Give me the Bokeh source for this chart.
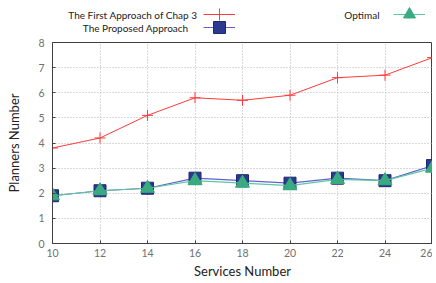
from bokeh.plotting import figure
from bokeh.models import Legend, LegendItem, Label, Range1d, FixedTicker
from bokeh.layouts import column
from bokeh.embed import file_html
from bokeh.resources import INLINE

services = [10, 12, 14, 16, 18, 20, 22, 24, 26]
first_approach = [3.8, 4.2, 5.1, 5.8, 5.7, 5.9, 6.6, 6.7, 7.4]
proposed = [1.9, 2.1, 2.2, 2.6, 2.5, 2.4, 2.6, 2.5, 3.1]
optimal = [1.9, 2.1, 2.2, 2.5, 2.4, 2.3, 2.55, 2.5, 3.0]
series_names = ["The First Approach of Chap 3", "The Proposed Approach", "Optimal"]
x_ticks = [10, 12, 14, 16, 18, 20, 22, 24, 26]
y_ticks = [0, 1, 2, 3, 4, 5, 6, 7, 8]

FONT = "Lato"
RED = "#ff3b3b"
BLUE_LINE = "#6262d0"
BLUE_FILL = "#2b3a8e"
BLUE_EDGE = "#1c2870"
GREEN_LINE = "#5cc8a0"
GREEN_FILL = "#3aaa80"
W = 432


def add_series(fig):
    a = fig.line(services, first_approach, line_color=RED, line_width=1)
    b = fig.scatter(services, first_approach, marker="cross", size=11,
                    line_color=RED, line_width=1)
    c = fig.line(services, proposed, line_color=BLUE_LINE, line_width=1.2)
    d = fig.scatter(services, proposed, marker="square", size=12,
                    fill_color=BLUE_FILL, line_color=BLUE_EDGE, line_width=1)
    e = fig.line(services, optimal, line_color=GREEN_LINE, line_width=1.2)
    f = fig.scatter(services, optimal, marker="triangle", size=14,
                    fill_color=GREEN_FILL, line_color=GREEN_FILL, line_width=1)
    return [[a, b], [c, d], [e, f]]


# ---- legend strip (top) ----
lf = figure(width=W, height=34, output_backend="svg", toolbar_location=None,
            x_range=Range1d(0, 1), y_range=Range1d(0, 1),
            x_axis_location=None, y_axis_location=None,
            min_border=0, min_border_left=0, min_border_right=0,
            min_border_top=0, min_border_bottom=0)
lf.outline_line_color = None
lf.grid.visible = False
lf.background_fill_color = "white"
lf.border_fill_color = "white"
leg_renderers = add_series(lf)

leg_style = dict(orientation="vertical", glyph_width=32, glyph_height=30, spacing=0,
                 padding=0, margin=0, label_width=0, label_height=0, label_standoff=0,
                 label_text_font_size="1px", background_fill_alpha=0,
                 border_line_alpha=0, inactive_fill_alpha=0)
# strip frame is aligned with the main frame (starts 52px from the left)
leg_pos = [(151, 5), (151, -8), (341, 5)]
for rends, pos in zip(leg_renderers, leg_pos):
    lf.add_layout(Legend(items=[LegendItem(label=" ", renderers=rends)],
                         location=pos, **leg_style), "center")

txt_pos = [(145, 20), (136, 7), (327, 20)]
for name, (xx, yy) in zip(series_names, txt_pos):
    lf.add_layout(Label(x=xx, y=yy, x_units="screen", y_units="screen", text=name,
                        text_font=FONT, text_font_size="10px", text_color="#222222",
                        text_align="right", text_baseline="middle"))

# ---- main chart ----
p = figure(width=W, height=247, output_backend="svg", toolbar_location=None,
           x_range=Range1d(10, 26), y_range=Range1d(0, 8),
           min_border_left=52, min_border_top=8, min_border_bottom=35, min_border_right=0)
p.outline_line_color = "#404040"
p.outline_line_width = 1
p.background_fill_color = "white"
p.border_fill_color = "white"

for ax in (p.xaxis[0], p.yaxis[0]):
    ax.major_label_text_font = FONT
    ax.major_label_text_font_size = "10.5px"
    ax.major_label_text_color = "#707070"
    ax.axis_label_text_font = FONT
    ax.axis_label_text_font_size = "13px"
    ax.axis_label_text_font_style = "normal"
    ax.axis_label_text_color = "#222222"
    ax.axis_line_color = "#404040"
    ax.major_tick_out = 0
    ax.major_tick_in = 3
    ax.major_tick_line_color = "#404040"
    ax.minor_tick_out = 0
    ax.minor_tick_in = 0

p.xaxis.ticker = FixedTicker(ticks=x_ticks)
p.yaxis.ticker = FixedTicker(ticks=y_ticks)
p.xaxis.axis_label = "Services Number"
p.yaxis.axis_label = "Planners Number"
p.xaxis.major_label_standoff = 5
p.xaxis.axis_label_standoff = 3
p.yaxis.major_label_standoff = 8
p.yaxis.axis_label_standoff = 13

p.grid.grid_line_color = "#b4b4b4"
p.grid.grid_line_dash = "1 2"
p.grid.grid_line_width = 1

add_series(p)

open("out.html", "w").write(file_html(column(lf, p, spacing=0), INLINE))
